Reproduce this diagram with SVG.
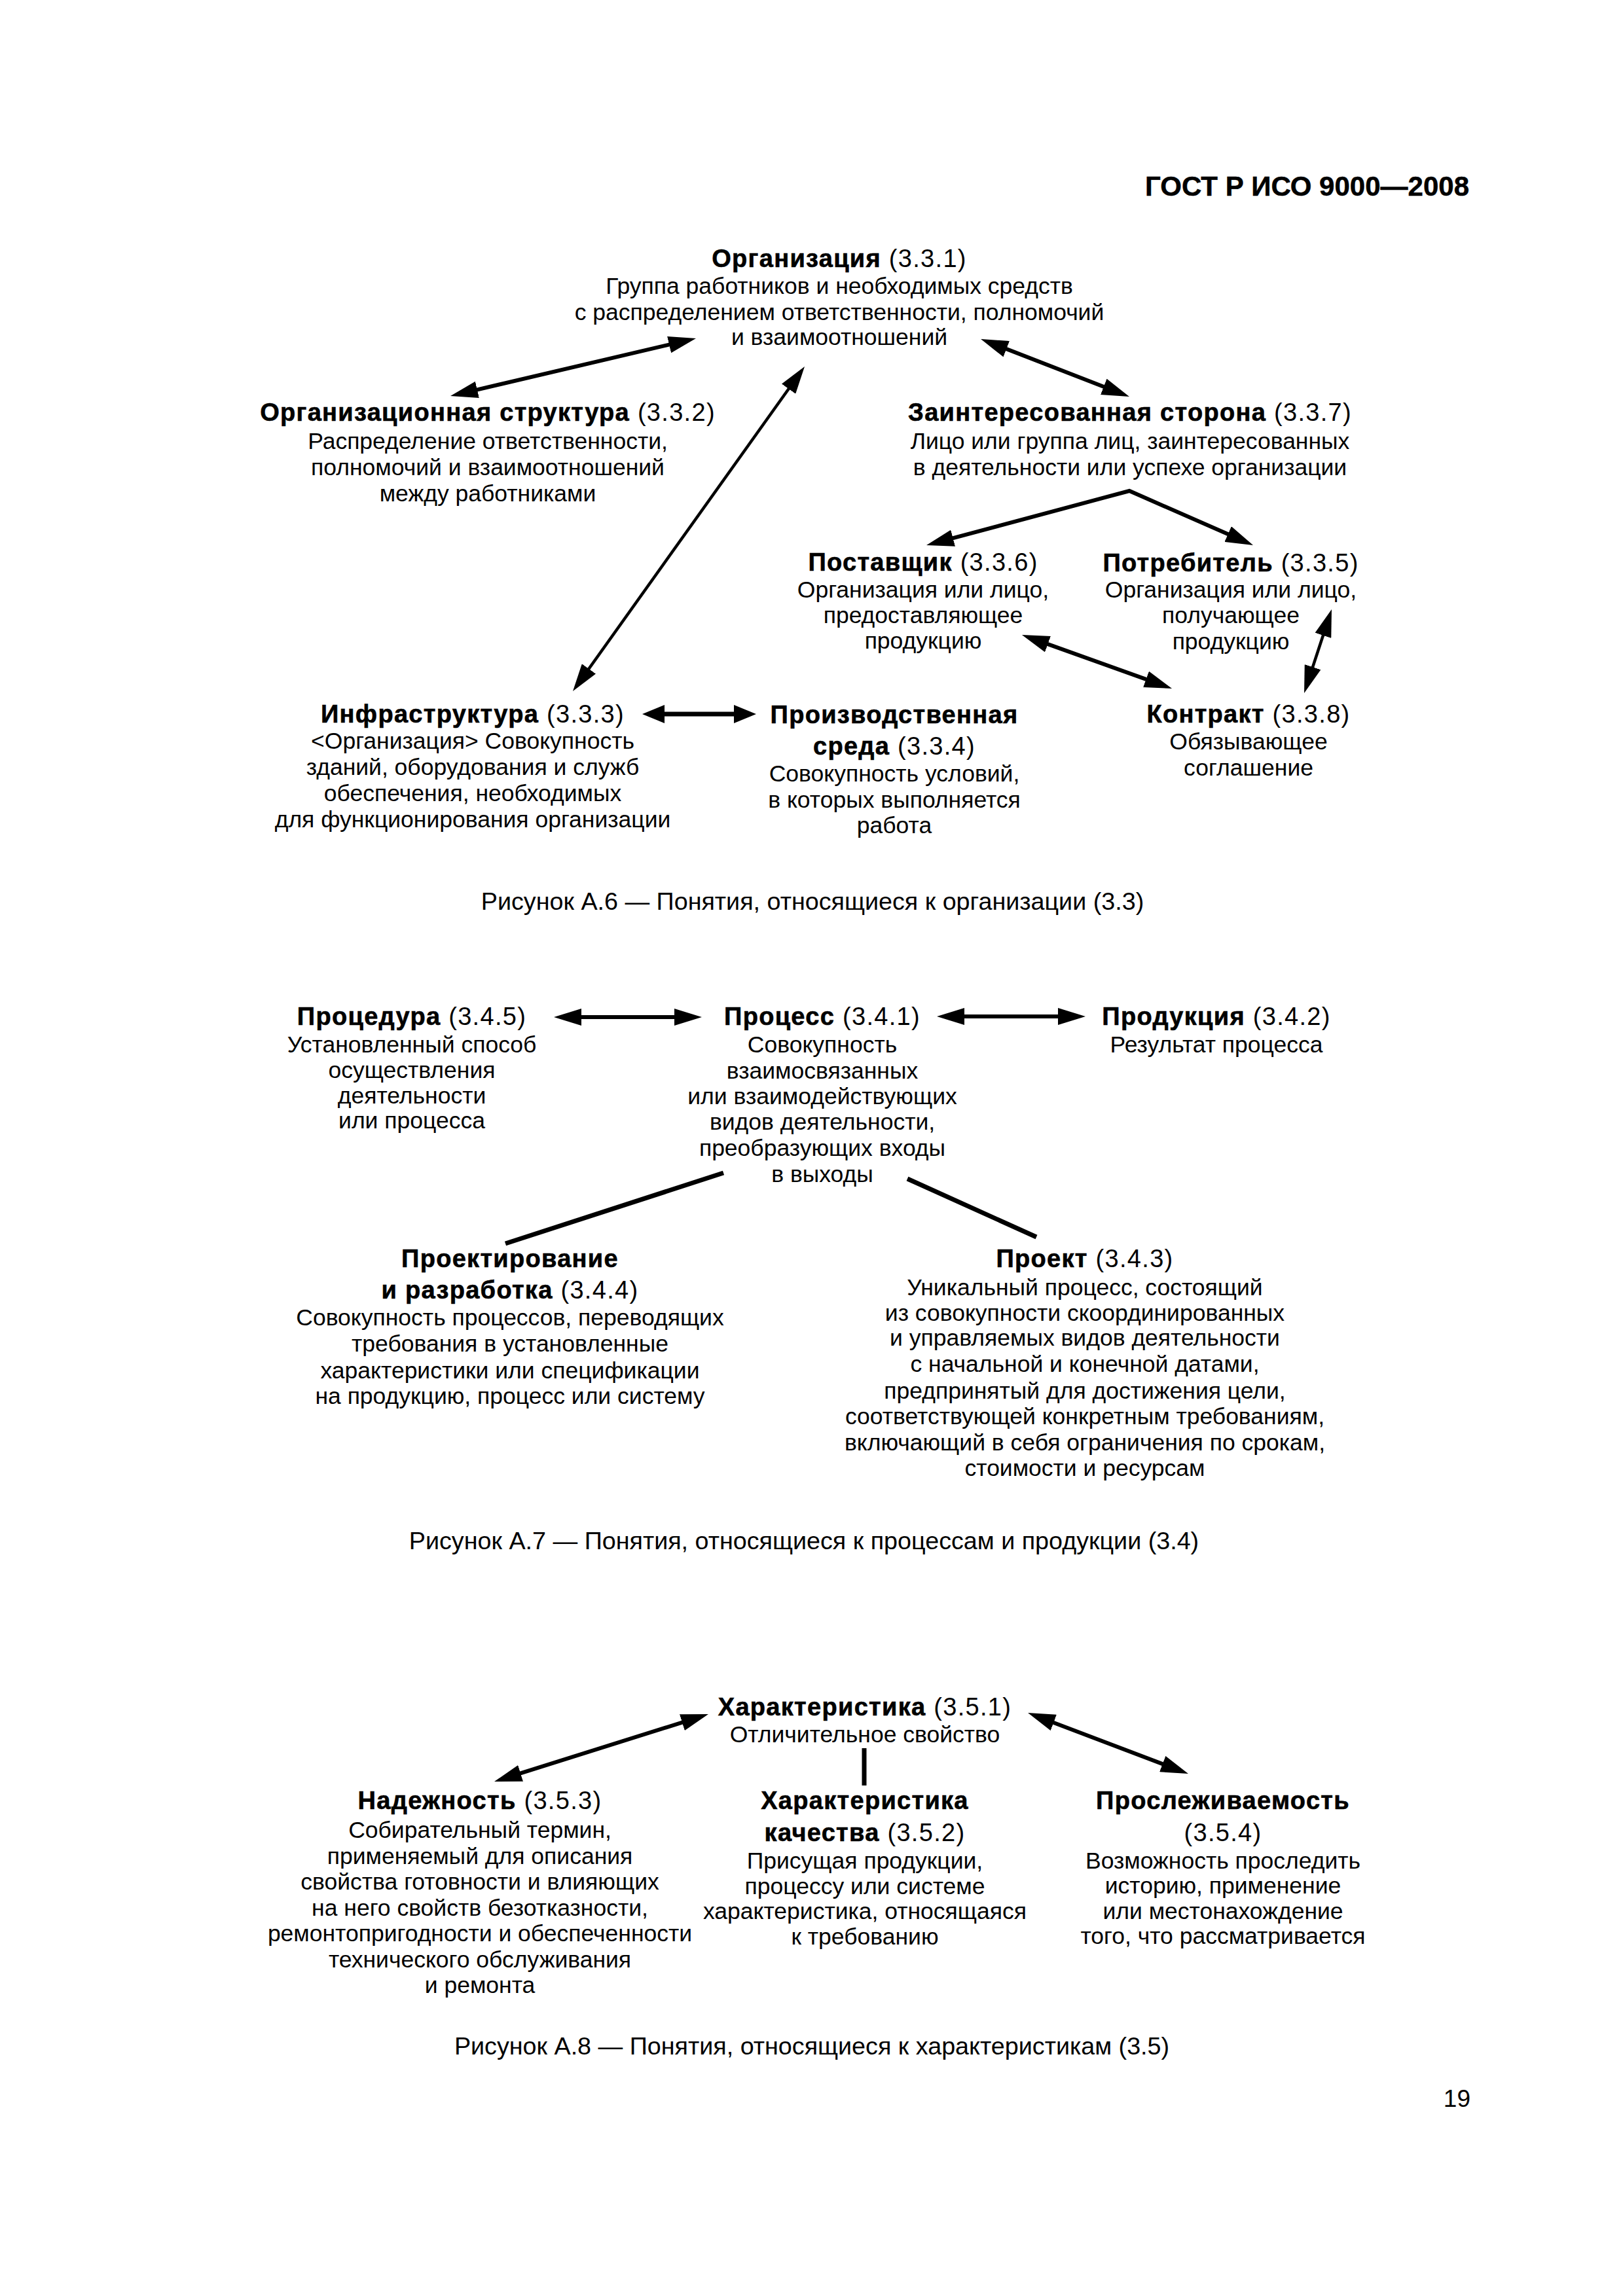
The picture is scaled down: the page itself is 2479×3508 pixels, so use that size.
<svg xmlns="http://www.w3.org/2000/svg" width="2479" height="3508" viewBox="0 0 2479 3508">
<style>
text{font-family:"Liberation Sans",Arial,sans-serif;fill:#000;text-anchor:middle}
.t{font-size:38px;font-weight:bold;letter-spacing:1.3px;stroke:#000;stroke-width:0.6px}
.r{font-weight:normal;stroke-width:0}
.b{font-size:35.5px}
.cap{font-size:37.7px}
.hdr{font-size:42px;font-weight:bold;text-anchor:end;stroke:#000;stroke-width:0.5px}
.pg{font-size:37px;text-anchor:end}
.c{fill:none;stroke:#000;stroke-linecap:butt;stroke-linejoin:miter}
.w5{stroke-width:6}
.w4{stroke-width:4.5}
.w6{stroke-width:7}
.a{marker-start:url(#ah);marker-end:url(#ah)}
</style>
<defs>
<marker id="ah" viewBox="0 0 42 26" refX="26" refY="13" markerWidth="42" markerHeight="26" markerUnits="userSpaceOnUse" orient="auto-start-reverse">
<path d="M0,0 L42,13 L0,26 z" fill="#000"/>
</marker>
<marker id="ahs" viewBox="0 0 34 28" refX="20" refY="14" markerWidth="34" markerHeight="28" markerUnits="userSpaceOnUse" orient="auto-start-reverse">
<path d="M0,0 L34,14 L0,28 z" fill="#000"/>
</marker>
</defs>
<rect width="2479" height="3508" fill="#fff"/>
<text class="hdr" x="2244" y="299">ГОСТ Р ИСО 9000—2008</text>

<g id="connectors">
<path class="c w5 a" d="M703.6,601.4 L1047.4,520.6"/>
<path class="c w5 a" d="M1513,523.8 L1710,600.2"/>
<path class="c w4 a" d="M1219.7,573 L884.3,1043"/>
<path class="c w5 a" d="M1430.5,828.9 L1725,750 L1899.4,826.6"/>
<path class="c w5 a" d="M1576,975.4 L1775,1046.6"/>
<path class="c w4 a" d="M2029,946.2 L1997,1043.8"/>
<path class="c w6" style="marker-start:url(#ahs);marker-end:url(#ahs)" d="M995,1091 L1141,1091"/>
<path class="c w5 a" d="M862,1554 L1056,1554"/>
<path class="c w5 a" d="M1447,1553 L1642,1553"/>
<path class="c w6" d="M1105,1792 L772,1900"/>
<path class="c w6" d="M1386,1801 L1583,1890"/>
<path class="c w5 a" d="M1066.7,2623.8 L770.3,2717.2"/>
<path class="c w5 a" d="M1585,2622.7 L1800,2704.3"/>
<path class="c" style="stroke-width:7" d="M1320,2671 L1320,2728"/>
</g>

<g id="n331">
<text class="t" x="1282" y="408">Организация<tspan class="r"> (3.3.1)</tspan></text>
<text class="b" x="1282" y="449">Группа работников и необходимых средств</text>
<text class="b" x="1282" y="489">с распределением ответственности, полномочий</text>
<text class="b" x="1282" y="527">и взаимоотношений</text>
</g>
<g id="n332">
<text class="t" x="745" y="643">Организационная структура<tspan class="r"> (3.3.2)</tspan></text>
<text class="b" x="745" y="686">Распределение ответственности,</text>
<text class="b" x="745" y="726">полномочий и взаимоотношений</text>
<text class="b" x="745" y="766">между работниками</text>
</g>
<g id="n337">
<text class="t" x="1726" y="643">Заинтересованная сторона<tspan class="r"> (3.3.7)</tspan></text>
<text class="b" x="1726" y="686">Лицо или группа лиц, заинтересованных</text>
<text class="b" x="1726" y="726">в деятельности или успехе организации</text>
</g>
<g id="n336">
<text class="t" x="1410" y="872">Поставщик<tspan class="r"> (3.3.6)</tspan></text>
<text class="b" x="1410" y="913">Организация или лицо,</text>
<text class="b" x="1410" y="952">предоставляющее</text>
<text class="b" x="1410" y="991">продукцию</text>
</g>
<g id="n335">
<text class="t" x="1880" y="873">Потребитель<tspan class="r"> (3.3.5)</tspan></text>
<text class="b" x="1880" y="913">Организация или лицо,</text>
<text class="b" x="1880" y="952">получающее</text>
<text class="b" x="1880" y="992">продукцию</text>
</g>
<g id="n333">
<text class="t" x="722" y="1104">Инфраструктура<tspan class="r"> (3.3.3)</tspan></text>
<text class="b" x="722" y="1144">&lt;Организация&gt; Совокупность</text>
<text class="b" x="722" y="1184">зданий, оборудования и служб</text>
<text class="b" x="722" y="1224">обеспечения, необходимых</text>
<text class="b" x="722" y="1264">для функционирования организации</text>
</g>
<g id="n334">
<text class="t" x="1366" y="1105">Производственная</text>
<text class="t" x="1366" y="1153">среда<tspan class="r"> (3.3.4)</tspan></text>
<text class="b" x="1366" y="1194">Совокупность условий,</text>
<text class="b" x="1366" y="1234">в которых выполняется</text>
<text class="b" x="1366" y="1273">работа</text>
</g>
<g id="n338">
<text class="t" x="1907" y="1104">Контракт<tspan class="r"> (3.3.8)</tspan></text>
<text class="b" x="1907" y="1145">Обязывающее</text>
<text class="b" x="1907" y="1185">соглашение</text>
</g>
<text class="cap" x="1241" y="1390">Рисунок А.6 — Понятия, относящиеся к организации (3.3)</text>

<g id="n345">
<text class="t" x="629" y="1566">Процедура<tspan class="r"> (3.4.5)</tspan></text>
<text class="b" x="629" y="1608">Установленный способ</text>
<text class="b" x="629" y="1647">осуществления</text>
<text class="b" x="629" y="1686">деятельности</text>
<text class="b" x="629" y="1724">или процесса</text>
</g>
<g id="n341">
<text class="t" x="1256" y="1566">Процесс<tspan class="r"> (3.4.1)</tspan></text>
<text class="b" x="1256" y="1608">Совокупность</text>
<text class="b" x="1256" y="1648">взаимосвязанных</text>
<text class="b" x="1256" y="1687">или взаимодействующих</text>
<text class="b" x="1256" y="1726">видов деятельности,</text>
<text class="b" x="1256" y="1766">преобразующих входы</text>
<text class="b" x="1256" y="1806">в выходы</text>
</g>
<g id="n342">
<text class="t" x="1858" y="1566">Продукция<tspan class="r"> (3.4.2)</tspan></text>
<text class="b" x="1858" y="1608">Результат процесса</text>
</g>
<g id="n344">
<text class="t" x="779" y="1936">Проектирование</text>
<text class="t" x="779" y="1984">и разработка<tspan class="r"> (3.4.4)</tspan></text>
<text class="b" x="779" y="2025">Совокупность процессов, переводящих</text>
<text class="b" x="779" y="2065">требования в установленные</text>
<text class="b" x="779" y="2106">характеристики или спецификации</text>
<text class="b" x="779" y="2145">на продукцию, процесс или систему</text>
</g>
<g id="n343">
<text class="t" x="1657" y="1936">Проект<tspan class="r"> (3.4.3)</tspan></text>
<text class="b" x="1657" y="1979">Уникальный процесс, состоящий</text>
<text class="b" x="1657" y="2018">из совокупности скоординированных</text>
<text class="b" x="1657" y="2056">и управляемых видов деятельности</text>
<text class="b" x="1657" y="2096">с начальной и конечной датами,</text>
<text class="b" x="1657" y="2137">предпринятый для достижения цели,</text>
<text class="b" x="1657" y="2176">соответствующей конкретным требованиям,</text>
<text class="b" x="1657" y="2216">включающий в себя ограничения по срокам,</text>
<text class="b" x="1657" y="2255">стоимости и ресурсам</text>
</g>
<text class="cap" x="1228" y="2367">Рисунок А.7 — Понятия, относящиеся к процессам и продукции (3.4)</text>

<g id="n351">
<text class="t" x="1321" y="2621">Характеристика<tspan class="r"> (3.5.1)</tspan></text>
<text class="b" x="1321" y="2662">Отличительное свойство</text>
</g>
<g id="n353">
<text class="t" x="733" y="2764">Надежность<tspan class="r"> (3.5.3)</tspan></text>
<text class="b" x="733" y="2808">Собирательный термин,</text>
<text class="b" x="733" y="2848">применяемый для описания</text>
<text class="b" x="733" y="2887">свойства готовности и влияющих</text>
<text class="b" x="733" y="2927">на него свойств безотказности,</text>
<text class="b" x="733" y="2966">ремонтопригодности и обеспеченности</text>
<text class="b" x="733" y="3006">технического обслуживания</text>
<text class="b" x="733" y="3045">и ремонта</text>
</g>
<g id="n352">
<text class="t" x="1321" y="2764">Характеристика</text>
<text class="t" x="1321" y="2813">качества<tspan class="r"> (3.5.2)</tspan></text>
<text class="b" x="1321" y="2855">Присущая продукции,</text>
<text class="b" x="1321" y="2894">процессу или системе</text>
<text class="b" x="1321" y="2932">характеристика, относящаяся</text>
<text class="b" x="1321" y="2971">к требованию</text>
</g>
<g id="n354">
<text class="t" x="1868" y="2764">Прослеживаемость</text>
<text class="t" x="1868" y="2813"><tspan class="r">(3.5.4)</tspan></text>
<text class="b" x="1868" y="2855">Возможность проследить</text>
<text class="b" x="1868" y="2893">историю, применение</text>
<text class="b" x="1868" y="2932">или местонахождение</text>
<text class="b" x="1868" y="2970">того, что рассматривается</text>
</g>
<text class="cap" x="1240" y="3139">Рисунок А.8 — Понятия, относящиеся к характеристикам (3.5)</text>
<text class="pg" x="2246" y="3219">19</text>
</svg>
